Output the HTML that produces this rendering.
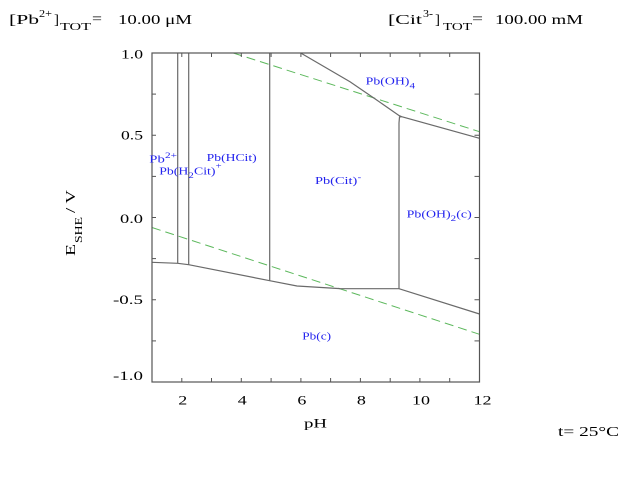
<!DOCTYPE html>
<html>
<head>
<meta charset="utf-8">
<style>
  html, body { margin: 0; padding: 0; background: #ffffff; }
  svg { display: block; }
  text { font-family: "Liberation Serif", "DejaVu Serif", serif; fill: #000; }
  .b { fill: #2222ee; font-size: 10.5px; }
  .s { fill: #2222ee; font-size: 8px; }
</style>
</head>
<body>
<svg width="640" height="480" viewBox="0 0 640 480" xmlns="http://www.w3.org/2000/svg">
  <rect x="0" y="0" width="640" height="480" fill="#ffffff"/>

  <!-- Titles -->
  <text x="9" y="24" font-size="14" textLength="30" lengthAdjust="spacingAndGlyphs">[Pb</text>
  <text x="39" y="17" font-size="10" textLength="13" lengthAdjust="spacingAndGlyphs">2+</text>
  <text x="54" y="24" font-size="14" textLength="5" lengthAdjust="spacingAndGlyphs">]</text>
  <text x="60" y="30" font-size="10" textLength="31" lengthAdjust="spacingAndGlyphs">TOT</text>
  <text x="92" y="23" font-size="14" textLength="10" lengthAdjust="spacingAndGlyphs">=</text>
  <text x="118" y="24" font-size="14" textLength="74" lengthAdjust="spacingAndGlyphs">10.00 μM</text>

  <text x="388" y="24" font-size="14" textLength="34" lengthAdjust="spacingAndGlyphs">[Cit</text>
  <text x="423" y="17" font-size="10" textLength="10" lengthAdjust="spacingAndGlyphs">3-</text>
  <text x="435" y="24" font-size="14" textLength="5" lengthAdjust="spacingAndGlyphs">]</text>
  <text x="443" y="30" font-size="10" textLength="29" lengthAdjust="spacingAndGlyphs">TOT</text>
  <text x="472" y="23" font-size="14" textLength="11" lengthAdjust="spacingAndGlyphs">=</text>
  <text x="495" y="24" font-size="14" textLength="88" lengthAdjust="spacingAndGlyphs">100.00 mM</text>

  <!-- Water stability lines (green dashed) -->
  <g stroke="#5cb85c" stroke-width="1" stroke-dasharray="9,5" fill="none">
    <line x1="233.3" y1="53" x2="479.5" y2="131.7"/>
    <line x1="152" y1="227.5" x2="479.5" y2="334.3"/>
  </g>

  <!-- Predominance boundaries -->
  <g stroke="#6a6a6a" stroke-width="1.2" fill="none">
    <line x1="177.7" y1="53" x2="177.7" y2="263.3"/>
    <line x1="188.7" y1="53" x2="188.7" y2="264.7"/>
    <line x1="269.7" y1="53" x2="269.7" y2="280.7"/>
    <polyline points="399,288.7 399,123 399.5,117 401.7,116.7"/>
    <polyline points="152,262.3 177.7,263.3 188.7,264.7 269.7,280.7 297,286 340,288.6 399,288.7 479.5,314"/>
    <polyline points="300.7,53 350,81.7 376.7,100 399.3,115.7 401.7,116.7 479.5,138.3"/>
  </g>

  <!-- Frame -->
  <rect x="152" y="53" width="327.5" height="329" fill="none" stroke="#555" stroke-width="1.2"/>

  <!-- Ticks -->
  <g stroke="#555" stroke-width="1">
    <line x1="181.8" y1="382" x2="181.8" y2="378"/>
    <line x1="211.5" y1="382" x2="211.5" y2="378"/>
    <line x1="241.3" y1="382" x2="241.3" y2="378"/>
    <line x1="271.1" y1="382" x2="271.1" y2="378"/>
    <line x1="300.9" y1="382" x2="300.9" y2="378"/>
    <line x1="330.6" y1="382" x2="330.6" y2="378"/>
    <line x1="360.4" y1="382" x2="360.4" y2="378"/>
    <line x1="390.2" y1="382" x2="390.2" y2="378"/>
    <line x1="419.9" y1="382" x2="419.9" y2="378"/>
    <line x1="449.7" y1="382" x2="449.7" y2="378"/>
    <line x1="181.8" y1="53" x2="181.8" y2="57"/>
    <line x1="211.5" y1="53" x2="211.5" y2="57"/>
    <line x1="241.3" y1="53" x2="241.3" y2="57"/>
    <line x1="271.1" y1="53" x2="271.1" y2="57"/>
    <line x1="300.9" y1="53" x2="300.9" y2="57"/>
    <line x1="330.6" y1="53" x2="330.6" y2="57"/>
    <line x1="360.4" y1="53" x2="360.4" y2="57"/>
    <line x1="390.2" y1="53" x2="390.2" y2="57"/>
    <line x1="419.9" y1="53" x2="419.9" y2="57"/>
    <line x1="449.7" y1="53" x2="449.7" y2="57"/>
    <line x1="152" y1="340.9" x2="156" y2="340.9"/>
    <line x1="152" y1="299.75" x2="156" y2="299.75"/>
    <line x1="152" y1="258.6" x2="156" y2="258.6"/>
    <line x1="152" y1="217.5" x2="156" y2="217.5"/>
    <line x1="152" y1="176.4" x2="156" y2="176.4"/>
    <line x1="152" y1="135.25" x2="156" y2="135.25"/>
    <line x1="152" y1="94.1" x2="156" y2="94.1"/>
    <line x1="479.5" y1="340.9" x2="474.5" y2="340.9"/>
    <line x1="479.5" y1="299.75" x2="474.5" y2="299.75"/>
    <line x1="479.5" y1="258.6" x2="474.5" y2="258.6"/>
    <line x1="479.5" y1="217.5" x2="474.5" y2="217.5"/>
    <line x1="479.5" y1="176.4" x2="474.5" y2="176.4"/>
    <line x1="479.5" y1="135.25" x2="474.5" y2="135.25"/>
    <line x1="479.5" y1="94.1" x2="474.5" y2="94.1"/>
  </g>

  <!-- Y tick labels -->
  <g font-size="13" text-anchor="end">
    <text x="143" y="58.5" textLength="22" lengthAdjust="spacingAndGlyphs">1.0</text>
    <text x="143" y="139.5" textLength="22" lengthAdjust="spacingAndGlyphs">0.5</text>
    <text x="143" y="222.8" textLength="23" lengthAdjust="spacingAndGlyphs">0.0</text>
    <text x="143" y="304.2" textLength="30" lengthAdjust="spacingAndGlyphs">-0.5</text>
    <text x="143" y="380.2" textLength="30" lengthAdjust="spacingAndGlyphs">-1.0</text>
  </g>

  <!-- X tick labels -->
  <g font-size="13" text-anchor="middle">
    <text x="182.8" y="404.3" textLength="9" lengthAdjust="spacingAndGlyphs">2</text>
    <text x="242.3" y="404.3" textLength="9" lengthAdjust="spacingAndGlyphs">4</text>
    <text x="301.9" y="404.3" textLength="9" lengthAdjust="spacingAndGlyphs">6</text>
    <text x="361.4" y="404.3" textLength="9" lengthAdjust="spacingAndGlyphs">8</text>
    <text x="421" y="404.3" textLength="18" lengthAdjust="spacingAndGlyphs">10</text>
    <text x="482.5" y="404.3" textLength="18" lengthAdjust="spacingAndGlyphs">12</text>
  </g>

  <!-- Axis labels -->
  <text x="304" y="427.5" font-size="13" textLength="23" lengthAdjust="spacingAndGlyphs">pH</text>
  <g transform="translate(75,256) rotate(-90)">
    <text x="0" y="0" font-size="14" textLength="12" lengthAdjust="spacingAndGlyphs">E</text>
    <text x="13" y="7" font-size="10" textLength="26" lengthAdjust="spacingAndGlyphs">SHE</text>
    <text x="43" y="0" font-size="14" textLength="23" lengthAdjust="spacingAndGlyphs">/ V</text>
  </g>

  <text x="558" y="436" font-size="14" textLength="61" lengthAdjust="spacingAndGlyphs">t= 25°C</text>

  <!-- Species labels -->
  <text class="b" x="149.3" y="162.5" textLength="15.5" lengthAdjust="spacingAndGlyphs">Pb</text>
  <text class="s" x="165" y="158" textLength="12" lengthAdjust="spacingAndGlyphs">2+</text>

  <text class="b" x="159.3" y="174.3" textLength="29" lengthAdjust="spacingAndGlyphs">Pb(H</text>
  <text class="s" x="188.4" y="177.8" textLength="5.4" lengthAdjust="spacingAndGlyphs">2</text>
  <text class="b" x="194" y="174.3" textLength="21.5" lengthAdjust="spacingAndGlyphs">Cit)</text>
  <text class="s" x="215.6" y="168.5" textLength="6" lengthAdjust="spacingAndGlyphs">+</text>

  <text class="b" x="206.7" y="160.8" textLength="50" lengthAdjust="spacingAndGlyphs">Pb(HCit)</text>

  <text class="b" x="365.7" y="84.3" textLength="43.7" lengthAdjust="spacingAndGlyphs">Pb(OH)</text>
  <text class="s" x="409.5" y="88.3" textLength="5.5" lengthAdjust="spacingAndGlyphs">4</text>

  <text class="b" x="315" y="184" textLength="42.3" lengthAdjust="spacingAndGlyphs">Pb(Cit)</text>
  <text class="s" x="357.6" y="180" textLength="3.6" lengthAdjust="spacingAndGlyphs">-</text>

  <text class="b" x="406.7" y="217.7" textLength="44" lengthAdjust="spacingAndGlyphs">Pb(OH)</text>
  <text class="s" x="450.7" y="221" textLength="5.5" lengthAdjust="spacingAndGlyphs">2</text>
  <text class="b" x="456.3" y="217.7" textLength="15.4" lengthAdjust="spacingAndGlyphs">(c)</text>

  <text class="b" x="302.3" y="339.3" textLength="28.7" lengthAdjust="spacingAndGlyphs">Pb(c)</text>
</svg>
</body>
</html>
